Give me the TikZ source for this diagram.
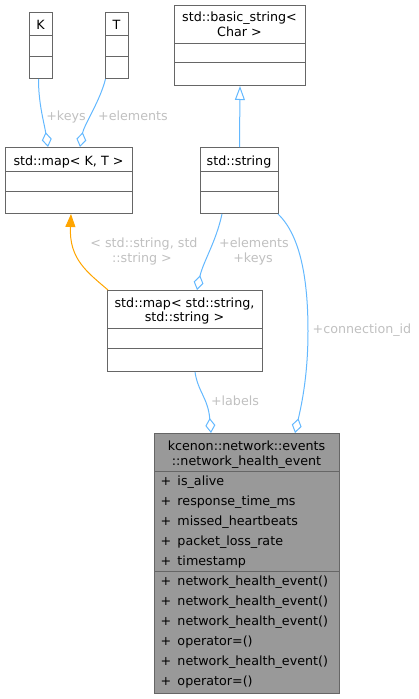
\documentclass[tikz,border=0pt]{standalone}
\usepackage{fontspec}
\setmainfont{DejaVu Sans}
\usetikzlibrary{arrows.meta,calc}
\definecolor{edgeblue}{HTML}{63B8FF}
\definecolor{boxline}{HTML}{666666}
\definecolor{mainfill}{HTML}{999999}
\definecolor{lblgray}{HTML}{C0C0C0}
\definecolor{inhor}{HTML}{FFA500}
\begin{document}
\begin{tikzpicture}[x=1pt,y=-1pt,
  umlbox/.style={draw=boxline, line width=1pt, fill=white, inner sep=0pt, anchor=north west},
  mainbox/.style={umlbox, fill=mainfill},
  divider/.style={draw=boxline, line width=1pt},
  txt/.style={inner sep=0pt, anchor=base, font=\fontsize{12.7}{14.7}\selectfont, align=center},
  mem/.style={inner sep=0pt, anchor=base west, font=\fontsize{12.7}{14.7}\selectfont},
  lbl/.style={inner sep=0pt, anchor=base, text=lblgray, font=\fontsize{12.7}{14.7}\selectfont},
  assoc/.style={draw=edgeblue, line width=1pt, -{Diamond[open,length=15pt,width=10pt]}},
  inherit/.style={draw=edgeblue, line width=1pt, -{Triangle[open,length=14pt,width=10pt]}},
  tmpl/.style={draw=inhor, line width=1pt, -{Triangle[length=13pt,width=10pt]}, color=inhor}
]
\useasboundingbox (0,0) rectangle (418,699);

% K
\node[umlbox, minimum width=23pt, minimum height=66pt] (K) at (29,12) {};
\draw[divider] (K.west |- 0,35) -- (K.east |- 0,35);
\draw[divider] (K.west |- 0,56) -- (K.east |- 0,56);
\node[txt] (Kt) at (40.5,29.3) {K};

% T
\node[umlbox, minimum width=23pt, minimum height=66pt] (T) at (105,12) {};
\draw[divider] (T.west |- 0,35) -- (T.east |- 0,35);
\draw[divider] (T.west |- 0,56) -- (T.east |- 0,56);
\node[txt] (Tt) at (116.5,29.3) {T};

% std::map< K, T >
\node[umlbox, minimum width=127pt, minimum height=66pt] (mapKT) at (5,147) {};
\draw[divider] (mapKT.west |- 0,171) -- (mapKT.east |- 0,171);
\draw[divider] (mapKT.west |- 0,191) -- (mapKT.east |- 0,191);
\node[txt] (mapKTt) at (68.5,165) {std::map< K, T >};

% std::basic_string< Char >
\node[umlbox, minimum width=131pt, minimum height=80pt] (bstr) at (174,5) {};
\draw[divider] (bstr.west |- 0,43) -- (bstr.east |- 0,43);
\draw[divider] (bstr.west |- 0,62) -- (bstr.east |- 0,62);
\node[txt] (bstrt1) at (239.5,21) {std::basic\_string<};
\node[txt] (bstrt2) at (239.5,36) {Char >};

% std::string
\node[umlbox, minimum width=78pt, minimum height=66pt] (str) at (200,147) {};
\draw[divider] (str.west |- 0,171) -- (str.east |- 0,171);
\draw[divider] (str.west |- 0,191) -- (str.east |- 0,191);
\node[txt] (strt) at (239,165) {std::string};

% std::map< std::string, std::string >
\node[umlbox, minimum width=155pt, minimum height=81pt] (mapSS) at (107,290) {};
\draw[divider] (mapSS.west |- 0,328) -- (mapSS.east |- 0,328);
\draw[divider] (mapSS.west |- 0,348) -- (mapSS.east |- 0,348);
\node[txt] (mapSSt1) at (184.5,307) {std::map< std::string,};
\node[txt] (mapSSt2) at (184.5,321) {std::string >};

% main class
\node[mainbox, minimum width=185pt, minimum height=260pt] (ev) at (154,433) {};
\draw[divider] (ev.west |- 0,471) -- (ev.east |- 0,471);
\draw[divider] (ev.west |- 0,571) -- (ev.east |- 0,571);
\node[txt] (evt1) at (246.5,450) {kcenon::network::events};
\node[txt] (evt2) at (246.5,465) {::network\_health\_event};
\node[mem] (a1) at (160.5,485) {\makebox[16.8pt][l]{+}is\_alive};
\node[mem] (a2) at (160.5,505) {\makebox[16.8pt][l]{+}response\_time\_ms};
\node[mem] (a3) at (160.5,525) {\makebox[16.8pt][l]{+}missed\_heartbeats};
\node[mem] (a4) at (160.5,545) {\makebox[16.8pt][l]{+}packet\_loss\_rate};
\node[mem] (a5) at (160.5,565) {\makebox[16.8pt][l]{+}timestamp};
\node[mem] (m1) at (160.5,585) {\makebox[16.8pt][l]{+}network\_health\_event()};
\node[mem] (m2) at (160.5,605) {\makebox[16.8pt][l]{+}network\_health\_event()};
\node[mem] (m3) at (160.5,625) {\makebox[16.8pt][l]{+}network\_health\_event()};
\node[mem] (m4) at (160.5,645) {\makebox[16.8pt][l]{+}operator=()};
\node[mem] (m5) at (160.5,665) {\makebox[16.8pt][l]{+}network\_health\_event()};
\node[mem] (m6) at (160.5,685) {\makebox[16.8pt][l]{+}operator=()};

% edges
\draw[assoc] ($(K.south)+(-2.5,0)$) .. controls ($(K.south)+(-2.5,25)$) and ($(mapKT.north west)+(39,-25)$) .. ($(mapKT.north west)+(43,0)$);
\draw[assoc] ($(T.south west)+(0.5,0)$) .. controls ($(T.south west)+(-5,22)$) and ($(mapKT.north west)+(79,-22)$) .. ($(mapKT.north west)+(75,0)$);
\draw[inherit] (str.north) -- (bstr.south);
\draw[assoc] ($(str.south west)+(22,0)$) .. controls ($(str.south west)+(16,28)$) and ($(mapSS.north west)+(96,-28)$) .. ($(mapSS.north west)+(90,0)$);
\draw[tmpl] ($(mapSS.north west)+(1,0)$) .. controls ($(mapSS.north west)+(-20,-18)$) and ($(mapKT.south west)+(64,45)$) .. ($(mapKT.south west)+(66,0)$);
\draw[assoc] ($(mapSS.south west)+(88,0)$) .. controls ($(mapSS.south west)+(91,20)$) and ($(ev.north west)+(54,-35)$) .. ($(ev.north west)+(57,0)$);
\draw[assoc] ($(str.south east)+(-1,0)$) .. controls ($(str.south east)+(22,22)$) and ($(str.south east)+(29,67)$) .. ($(str.south east)+(29,117)$) .. controls ($(str.south east)+(29,160)$) and ($(ev.north west)+(148,-30)$) .. ($(ev.north west)+(141,0)$);

% labels
\node[lbl] (l1) at (66,120) {+keys};
\node[lbl] (l2) at (133,120) {+elements};
\node[lbl] (l3) at (144,247) {< std::string, std};
\node[lbl] (l4) at (142,262) {::string >};
\node[lbl] (l5) at (254,247) {+elements};
\node[lbl] (l6) at (253,262) {+keys};
\node[lbl] (l7) at (362,333) {+connection\_id};
\node[lbl] (l8) at (235,405) {+labels};
\end{tikzpicture}
\end{document}
